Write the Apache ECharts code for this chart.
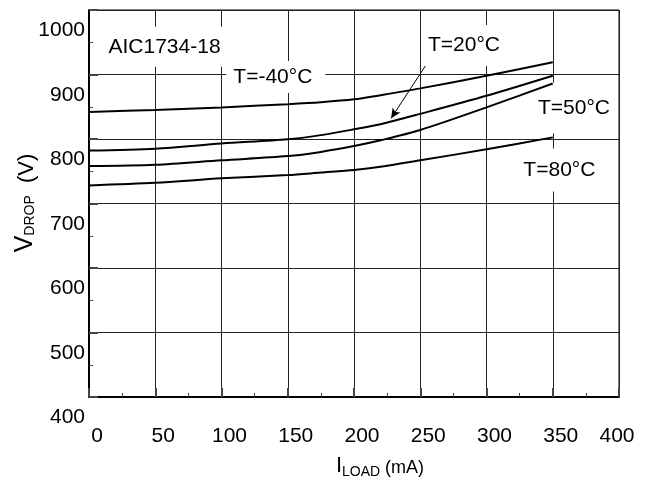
<!DOCTYPE html>
<html>
<head>
<meta charset="utf-8">
<title>AIC1734-18 VDROP vs ILOAD</title>
<style>
  html, body { margin: 0; padding: 0; background: #fff; }
  #main { width: 649px; height: 485px; }
</style>
</head>
<body>
<div id="main"></div>
<script src="https://cdn.jsdelivr.net/npm/echarts@6/dist/echarts.min.js"></script>
<script>
// tick values
var xTicks = [0, 50, 100, 150, 200, 250, 300, 350, 400];
var yTicks = [400, 500, 600, 700, 800, 900, 1000];

// load current (mA) and dropout per temperature
var loadMA = [0, 50, 100, 150, 175, 200, 220, 250, 300, 350];
var vM40 = [842, 845, 849, 854, 857, 861.5, 868, 878.5, 898, 919];
var v20  = [782, 785, 793, 799.5, 806, 815, 823, 839, 867, 898];
var v50  = [758, 760, 767, 773.5, 780, 789, 798, 814, 849, 886];
var v80  = [728, 732, 739, 744, 748, 752, 757, 767, 784, 802.5];

// arrow from the T=20 label down to its curve
var arrowFrom = [256, 920];
var arrowTo = [228, 832];

// annotation labels: text, anchor in data units
var notes = [
  { text: 'AIC1734-18', at: [57, 943], pad: [15, 5, 5, 5] },
  { text: 'T=-40°C', at: [141, 896], pad: [7, 13, 5, 7] },
  { text: 'T=20°C', at: [283, 945], pad: [9, 6, 12, 6] },
  { text: 'T=50°C', at: [366, 848], pad: [13, 2, 18, 2] },
  { text: 'T=80°C', at: [355, 752], pad: [8, 3, 15, 3] }
];

function pairs(ys) {
  return loadMA.map(function (x, i) { return [x, ys[i]]; });
}

var font = 'Liberation Sans, Arial, sans-serif';
var myChart = echarts.init(document.getElementById('main'));

function curve(name, ys, extra) {
  var s = {
    name: name,
    type: 'line',
    data: pairs(ys),
    smooth: 0.3,
    showSymbol: false,
    silent: true,
    lineStyle: { color: '#000', width: 2 },
    z: 100
  };
  if (extra) { s.markLine = extra; }
  return s;
}

var option = {
  animation: false,
  textStyle: { fontFamily: font },
  grid: {
    left: 89, top: 10, right: 30, bottom: 88,
    show: true, borderColor: '#000', borderWidth: 1
  },
  xAxis: {
    type: 'value',
    min: xTicks[0],
    max: xTicks[xTicks.length - 1],
    interval: xTicks[1] - xTicks[0],
    axisLine: { show: true, lineStyle: { color: '#000', width: 2 } },
    axisTick: { show: true, inside: true, length: 9, lineStyle: { color: '#444', width: 2 } },
    minorTick: { show: true, splitNumber: 2, length: 4, lineStyle: { color: '#444' } },
    splitLine: { show: true, lineStyle: { color: '#222', width: 1 } },
    axisLabel: {
      margin: 29,
      color: '#000',
      fontSize: 21,
      formatter: function (v) { return v === 400 ? '{e|' + v + '}' : '{n|' + v + '}'; },
      rich: {
        n: { fontSize: 21, color: '#000', fontFamily: font, padding: [0, 0, 0, 16] },
        e: { fontSize: 21, color: '#000', fontFamily: font, padding: [0, 4, 0, 0] }
      }
    }
  },
  yAxis: {
    type: 'value',
    min: yTicks[0],
    max: yTicks[yTicks.length - 1],
    interval: yTicks[1] - yTicks[0],
    axisLine: { show: true, lineStyle: { color: '#000', width: 2 } },
    axisTick: { show: true, inside: true, length: 9, lineStyle: { color: '#444', width: 2 } },
    minorTick: { show: true, splitNumber: 2, length: 4, lineStyle: { color: '#444' } },
    splitLine: { show: true, lineStyle: { color: '#222', width: 1 } },
    axisLabel: {
      margin: 4,
      color: '#000',
      fontSize: 21,
      verticalAlign: 'top',
      padding: [10, 0, 0, 0],
      formatter: function (v) { return String(v); }
    }
  },
  series: [
    curve('T=-40°C', vM40),
    curve('T=20°C', v20, {
      silent: true,
      symbol: ['none', 'arrow'],
      symbolSize: [7, 10],
      label: { show: false },
      lineStyle: { color: '#000', width: 1, type: 'solid' },
      data: [[{ coord: arrowFrom }, { coord: arrowTo }]]
    }),
    curve('T=50°C', v50),
    curve('T=80°C', v80)
  ]
};

myChart.setOption(option);

// annotation boxes and axis titles
var graphics = notes.map(function (n) {
  var p = myChart.convertToPixel({ gridIndex: 0 }, n.at);
  return {
    type: 'text',
    x: p[0], y: p[1],
    z: 50,
    silent: true,
    style: {
      text: n.text,
      fontSize: 21,
      fontFamily: font,
      fill: '#000',
      align: 'center',
      verticalAlign: 'middle',
      lineHeight: 20,
      backgroundColor: '#fff',
      padding: n.pad
    }
  };
});

graphics.push({
  type: 'text',
  x: 380, y: 466,
  z: 50,
  silent: true,
  style: {
    text: '{b|I}{s|LOAD}{m| (mA)}',
    align: 'center',
    verticalAlign: 'middle',
    rich: {
      b: { fontSize: 22, lineHeight: 22, fontFamily: font, fill: '#000', verticalAlign: 'bottom' },
      s: { fontSize: 14, lineHeight: 14, fontFamily: font, fill: '#000', verticalAlign: 'bottom', padding: [0, 0, -2, 0] },
      m: { fontSize: 18, lineHeight: 18, fontFamily: font, fill: '#000', verticalAlign: 'bottom' }
    }
  }
});

graphics.push({
  type: 'text',
  x: 25, y: 203,
  rotation: Math.PI / 2,
  z: 50,
  silent: true,
  style: {
    text: '{b|V}{s|DROP}{m|  (V)}',
    align: 'center',
    verticalAlign: 'middle',
    rich: {
      b: { fontSize: 25, lineHeight: 25, fontFamily: font, fill: '#000', verticalAlign: 'bottom' },
      s: { fontSize: 14, lineHeight: 14, fontFamily: font, fill: '#000', verticalAlign: 'bottom' },
      m: { fontSize: 22, lineHeight: 22, fontFamily: font, fill: '#000', verticalAlign: 'bottom' }
    }
  }
});

myChart.setOption({ graphic: graphics });
</script>
</body>
</html>
